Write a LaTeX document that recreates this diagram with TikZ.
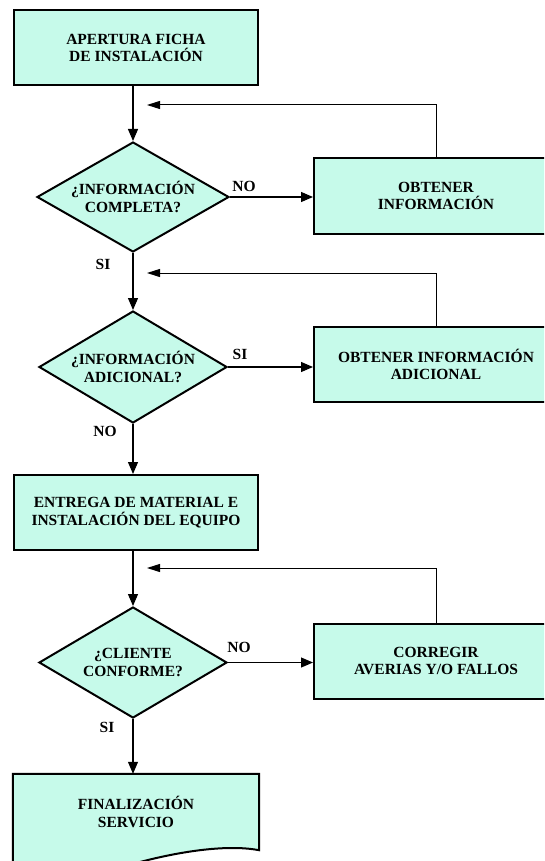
\documentclass[tikz,border=0pt]{standalone}
\usepackage{fontspec}
\setmainfont{Liberation Serif}
\usetikzlibrary{arrows.meta,shapes.geometric}
\definecolor{mint}{RGB}{198,250,234}
\begin{document}
\begin{tikzpicture}[x=1pt,y=-1pt,
  font=\fontsize{15.5}{17.5}\selectfont\bfseries,
  procbox/.style={draw=black, line width=2pt, fill=mint, minimum width=244pt,
    minimum height=75pt, inner sep=0pt, align=center},
  decision/.style={diamond, draw=black, line width=2pt, fill=mint, inner sep=0pt},
  dtext/.style={align=center, inner sep=0pt},
  lbl/.style={inner sep=0pt},
  arr/.style={line width=1.1pt, -{Triangle[length=12pt,width=10pt]}},
  loopline/.style={line width=1pt, -{Triangle[length=13pt,width=8pt]}}
]
\useasboundingbox (0,0) rectangle (544,861);
\clip (0,0) rectangle (544,861);

% main column
\node[procbox] (b1) at (136,48) {APERTURA FICHA\\DE INSTALACIÓN};

\node[decision, minimum width=192pt, minimum height=110pt] (d1) at (133,197) {};
\node[dtext] (d1t) at (d1) {¿INFORMACIÓN\\COMPLETA?};

\node[decision, minimum width=188pt, minimum height=112pt] (d2) at (133,367) {};
\node[dtext] (d2t) at (d2) {¿INFORMACIÓN\\ADICIONAL?};

\node[procbox] (b3) at (136,512.5) {ENTREGA DE MATERIAL E\\INSTALACIÓN DEL EQUIPO};

\node[decision, minimum width=188pt, minimum height=111pt] (d3) at (133,662.5) {};
\node[dtext] (d3t) at (d3) {¿CLIENTE\\CONFORME?};

% closing document shape
\node[minimum width=246pt, minimum height=76pt, inner sep=0pt] (b4) at (136,812) {};
\fill[mint, draw=black, line width=2pt]
  (b4.north west) -- (b4.north east) -- (b4.south east)
  .. controls (232,845) and (190,849) .. (140,862)
  .. controls (100,873) and (50,880) .. (13,880) -- cycle;
\node[dtext] (b4t) at (b4) {FINALIZACIÓN\\SERVICIO};

% side boxes
\node[procbox] (r1) at (436,196) {OBTENER\\INFORMACIÓN};
\node[procbox] (r2) at (436,364.5) {OBTENER INFORMACIÓN\\ADICIONAL};
\node[procbox] (r3) at (436,661) {CORREGIR\\AVERIAS Y/O FALLOS};

% return points on the main column
\coordinate (l1) at (147,105);
\coordinate (l2) at (147,273);
\coordinate (l3) at (147,568);

% main flow
\draw[arr] (b1.south -| d1.north) -- (d1.north);
\draw[arr] (d1.south) -- (d2.north);
\draw[arr] (d2.south) -- (b3.north -| d2.south);
\draw[arr] (b3.south -| d3.north) -- (d3.north);
\draw[arr] (d3.south) -- (b4.north -| d3.south);

% branches
\draw[arr] (d1.east) -- (r1.west |- d1.east);
\draw[arr] (d2.east) -- (r2.west |- d2.east);
\draw[arr] (d3.east) -- (r3.west |- d3.east);

% loops back
\draw[loopline] (r1.north) |- (l1);
\draw[loopline] (r2.north) |- (l2);
\draw[loopline] (r3.north) |- (l3);

% branch labels
\node[lbl] (n1) at (244,186) {NO};
\node[lbl] (s1) at (103,264) {SI};
\node[lbl] (s2) at (240,354) {SI};
\node[lbl] (n2) at (105,431) {NO};
\node[lbl] (n3) at (239,647) {NO};
\node[lbl] (s3) at (107,727) {SI};
\end{tikzpicture}
\end{document}
